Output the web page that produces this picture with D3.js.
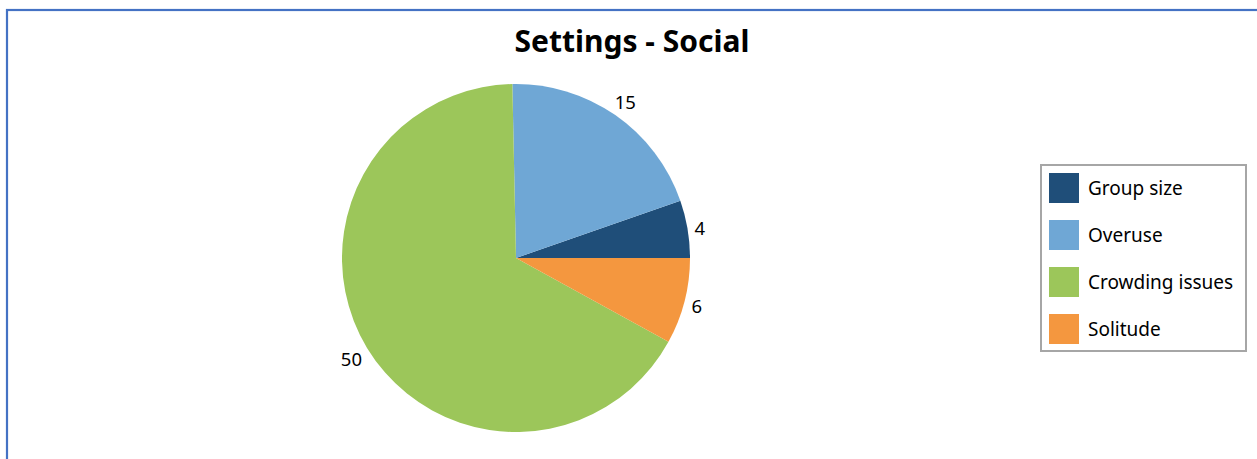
<!DOCTYPE html>
<html>
<head>
<meta charset="utf-8">
<script src="https://cdn.jsdelivr.net/npm/d3@7/dist/d3.min.js"></script>
<style>
  html, body { margin: 0; padding: 0; background: #fff; }
  svg { display: block; }
  text { font-family: "Segoe UI", "Noto Sans", "Open Sans", sans-serif; }
</style>
</head>
<body>
<svg id="chart" width="1257" height="459"></svg>
<script>
// Chart data
const categories = ["Group size", "Overuse", "Crowding issues", "Solitude"];
const values = [4, 15, 50, 6];
const colors = ["#1F4E79", "#6FA7D5", "#9CC65A", "#F4973F"];
const title = "Settings - Social";

const svg = d3.select("#chart");
const W = 1257, H = 459;

// Outer frame
svg.append("rect")
  .attr("x", 7).attr("y", 10)
  .attr("width", W - 7 + 5).attr("height", H)
  .attr("fill", "#fff")
  .attr("stroke", "#4472C4").attr("stroke-width", 2.2);

// Title
svg.append("text")
  .attr("x", 632).attr("y", 52)
  .attr("text-anchor", "middle")
  .attr("font-size", 30).attr("font-weight", "bold")
  .attr("fill", "#000")
  .text(title);

// Pie, first slice starting at 3 o'clock and running counter-clockwise
const cx = 516, cy = 258, R = 174;
const pie = d3.pie()
  .sort(null)
  .startAngle(Math.PI / 2)
  .endAngle(Math.PI / 2 - 2 * Math.PI);
const arcs = pie(values);
const arc = d3.arc().innerRadius(0).outerRadius(R);

const g = svg.append("g").attr("transform", `translate(${cx},${cy})`);
g.selectAll("path")
  .data(arcs)
  .join("path")
  .attr("d", arc)
  .attr("fill", (d, i) => colors[i]);

// Value labels just outside each slice
const labelFont = 18.5;
g.selectAll("text.val")
  .data(arcs)
  .join("text")
  .attr("class", "val")
  .attr("font-size", labelFont)
  .attr("fill", "#000")
  .attr("text-anchor", "middle")
  .attr("dominant-baseline", "central")
  .text(d => d.data)
  .each(function (d) {
    const a = (d.startAngle + d.endAngle) / 2;
    const sx = Math.sin(a), sy = -Math.cos(a);
    const w = this.getComputedTextLength();
    const h = 13;
    const r = R + 6 + Math.abs(sx) * w / 2 + Math.abs(sy) * h / 2;
    d3.select(this).attr("x", sx * r).attr("y", sy * r + 1);
  });

// Legend
const lx = 1041, ly = 165, lw = 205, lh = 186;
svg.append("rect")
  .attr("x", lx).attr("y", ly)
  .attr("width", lw).attr("height", lh)
  .attr("fill", "#fff")
  .attr("stroke", "#A6A6A6").attr("stroke-width", 2);

const item = svg.selectAll("g.leg")
  .data(categories)
  .join("g")
  .attr("class", "leg")
  .attr("transform", (d, i) => `translate(1049, ${173 + i * 47})`);
item.append("rect")
  .attr("width", 30).attr("height", 30)
  .attr("fill", (d, i) => colors[i]);
item.append("text")
  .attr("x", 39).attr("y", 15)
  .attr("dominant-baseline", "central")
  .attr("font-size", 19)
  .attr("fill", "#000")
  .text(d => d);
</script>
</body>
</html>
